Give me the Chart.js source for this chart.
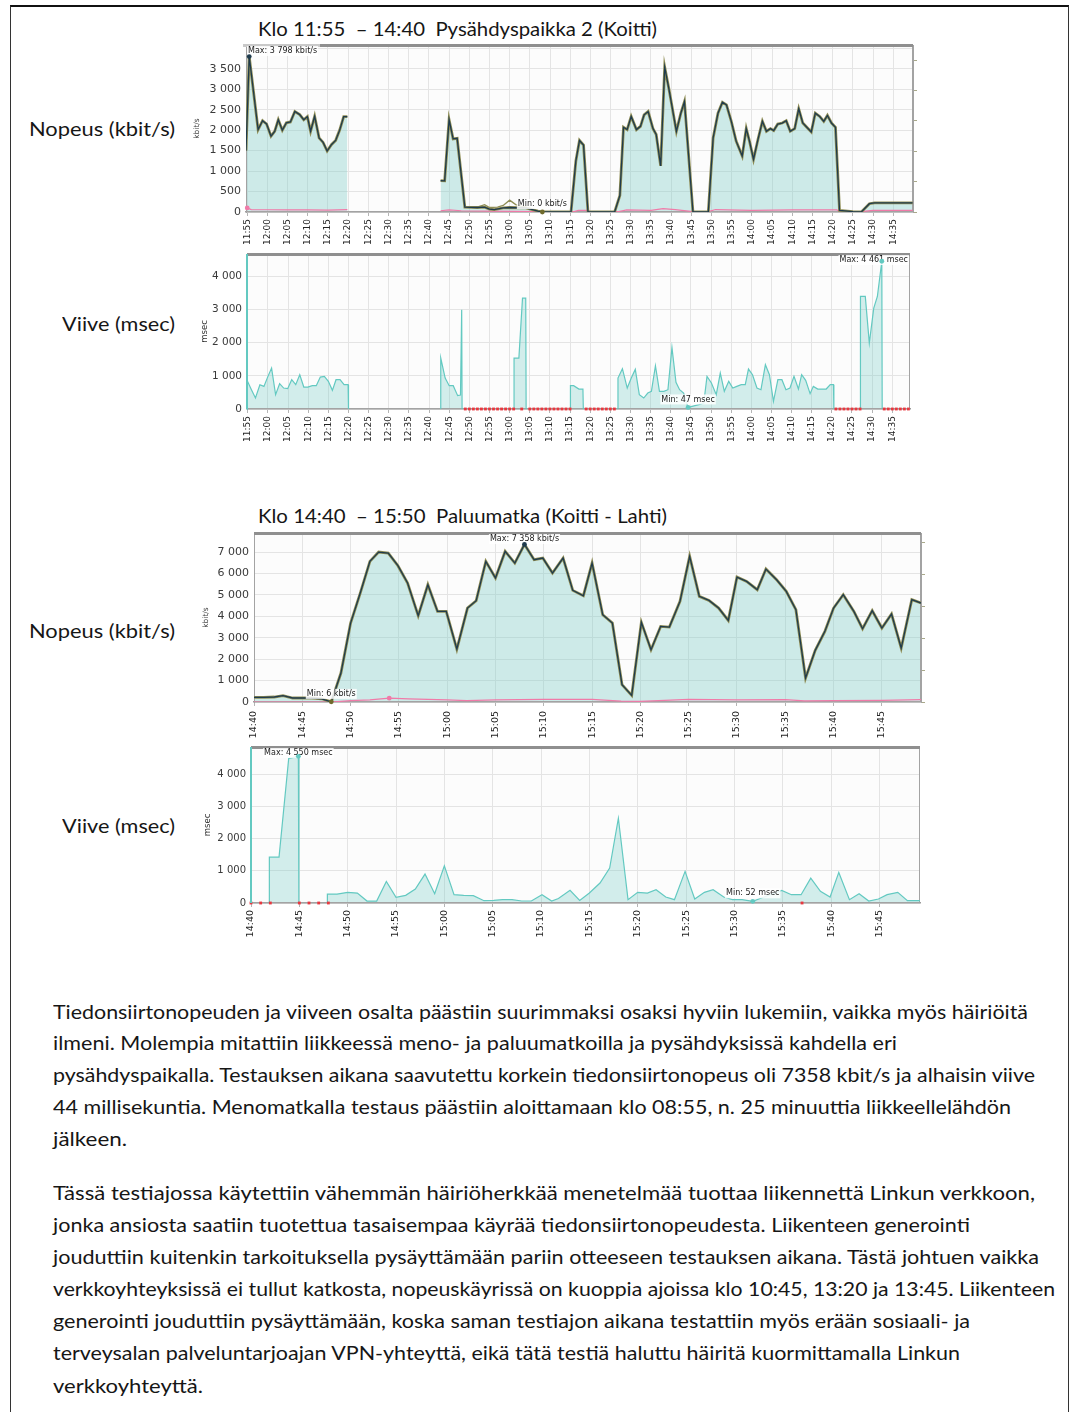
<!DOCTYPE html>
<html lang="fi">
<head>
<meta charset="utf-8">
<title>Linkku – nopeus ja viive</title>
<script src="https://cdn.jsdelivr.net/npm/chart.js@4.4.1/dist/chart.umd.min.js"></script>
<style>
  html, body { margin: 0; padding: 0; background: #fff; }
  body { position: relative; width: 1071px; height: 1412px; overflow: hidden; }
  .page { position: absolute; left: 10px; top: 5px; width: 1057px; height: 1440px;
          border-top: 2px solid #111; border-left: 1px solid #333; border-right: 1px solid #333; }
  .t { position: absolute; white-space: nowrap; color: #161616;
       font-family: Lato, "Noto Sans", sans-serif; line-height: 24px; transform-origin: 0 50%; }
  .title { font-size: 19px; }
  .side { font-size: 19.5px; }
  .para { font-size: 18.6px; left: 53px; line-height: 28px; }
  canvas { position: absolute; }
</style>
</head>
<body>
<div class="page"></div>

<div class="t title" style="left:258px;top:17px" data-w="399">Klo 11:55 &nbsp;– 14:40 &nbsp;Pysähdyspaikka 2 (Koitti)</div>
<div class="t side" style="left:29px;top:117px" data-w="146">Nopeus (kbit/s)</div>
<div class="t side" style="left:62px;top:312px" data-w="113">Viive (msec)</div>

<div class="t title" style="left:258px;top:504px" data-w="409">Klo 14:40 &nbsp;– 15:50 &nbsp;Paluumatka (Koitti - Lahti)</div>
<div class="t side" style="left:29px;top:619px" data-w="146">Nopeus (kbit/s)</div>
<div class="t side" style="left:62px;top:814px" data-w="113">Viive (msec)</div>

<canvas id="speed1"></canvas>
<canvas id="delay1"></canvas>
<canvas id="speed2"></canvas>
<canvas id="delay2"></canvas>

<div class="t para" style="top:998px" data-w="975">Tiedonsiirtonopeuden ja viiveen osalta päästiin suurimmaksi osaksi hyviin lukemiin, vaikka myös häiriöitä</div>
<div class="t para" style="top:1029px" data-w="844">ilmeni. Molempia mitattiin liikkeessä meno- ja paluumatkoilla ja pysähdyksissä kahdella eri</div>
<div class="t para" style="top:1061px" data-w="982">pysähdyspaikalla. Testauksen aikana saavutettu korkein tiedonsiirtonopeus oli 7358 kbit/s ja alhaisin viive</div>
<div class="t para" style="top:1093px" data-w="958">44 millisekuntia. Menomatkalla testaus päästiin aloittamaan klo 08:55, n. 25 minuuttia liikkeellelähdön</div>
<div class="t para" style="top:1125px" data-w="74">jälkeen.</div>

<div class="t para" style="top:1179px" data-w="982">Tässä testiajossa käytettiin vähemmän häiriöherkkää menetelmää tuottaa liikennettä Linkun verkkoon,</div>
<div class="t para" style="top:1211px" data-w="917">jonka ansiosta saatiin tuotettua tasaisempaa käyrää tiedonsiirtonopeudesta. Liikenteen generointi</div>
<div class="t para" style="top:1243px" data-w="986">jouduttiin kuitenkin tarkoituksella pysäyttämään pariin otteeseen testauksen aikana. Tästä johtuen vaikka</div>
<div class="t para" style="top:1275px" data-w="1002">verkkoyhteyksissä ei tullut katkosta, nopeuskäyrissä on kuoppia ajoissa klo 10:45, 13:20 ja 13:45. Liikenteen</div>
<div class="t para" style="top:1307px" data-w="917">generointi jouduttiin pysäyttämään, koska saman testiajon aikana testattiin myös erään sosiaali- ja</div>
<div class="t para" style="top:1339px" data-w="907">terveysalan palveluntarjoajan VPN-yhteyttä, eikä tätä testiä haluttu häiritä kuormittamalla Linkun</div>
<div class="t para" style="top:1372px" data-w="150">verkkoyhteyttä.</div>

<script>
// ---- Pysähdyspaikka 2 (Koitti), 11:55–14:40; times are minutes after 11:55 ----
const stopStart = 11 * 60 + 55;

const speed1Time = [-0.3, 0.5, 2.7, 3.8, 4.8, 5.9, 6.8, 7.7, 8.7, 9.7, 10.7, 11.8, 13.0, 14.0, 14.9, 15.7, 16.7, 17.8, 18.8, 19.8,
  20.9, 21.9, 22.9, 23.9, 24.8, 30, 47.9, 48.9, 50.0, 51.0, 52.0, 53.9, 57, 58.8, 60, 61.2, 63.4, 65, 69, 72,
  73.1, 80.2, 81.4, 82.3, 83.3, 84.4, 91.0, 92.3, 93.2, 94.1, 95.1, 96.4, 97.4, 98.3, 99.3, 100.5, 101.3, 102.4, 103.4, 104.5,
  106.3, 107.4, 108.3, 110.4, 114.2, 115.4, 116.6, 117.7, 118.7, 119.9, 121.1, 122.6, 123.6, 124.4, 125.4, 126.5, 127.6, 128.6, 129.6, 130.4,
  131.4, 132.5, 133.5, 134.5, 135.6, 136.6, 137.6, 138.6, 139.7, 140.7, 141.8, 142.8, 143.7, 144.7, 145.7, 146.7, 150, 152.1, 154.1, 155.4,
  164.8];
const speed1Kbps = [1500, 3798, 2013, 2230, 2150, 1852, 1970, 2254, 2000, 2180, 2200, 2456, 2380, 2254, 2330, 1973, 2340, 1811, 1700, 1490,
  1650, 1750, 2000, 2330, 2330, null, 765, 760, 2254, 1787, 1800, 120, 110, 120, 70, 60, 100, 110, 100, 20,
  0, 0, 1248, 1748, 1634, 0, 0, 403, 2069, 2013, 2334, 2013, 2093, 2375, 2455, 2037, 1892, 1127, 3541, 2979,
  1972, 2414, 2696, 0, 0, 1810, 2414, 2680, 2616, 2214, 1731, 1369, 2037, 1731, 1289, 1771, 2214, 1972, 2037, 1989,
  2149, 2174, 2230, 1972, 2037, 2520, 2174, 2069, 1956, 2414, 2334, 2214, 2359, 2174, 2069, 40, 10, 0, 203, 225,
  225];

// total-rate trace where it separates from the download trace
const speed1TotalTime = [53.9, 57, 58.8, 60, 62, 63.4, 65, 66.5, 69, 72, 73.1];
const speed1TotalKbps = [120, 120, 180, 110, 120, 160, 290, 180, 120, 20, 0];

const upload1Time = [-0.3, 0, 1, 5, 10, 15, 20, 24.8, 30, 47.9, 50, 53, 60, 73, 81, 82, 84, 85, 92, 94,
  100, 103, 106, 110.4, 114.2, 116, 125, 135, 146, 147, 152, 155, 164.8];
const upload1Kbps = [60, 100, 60, 55, 50, 50, 45, 60, null, 30, 50, 30, 20, 10, 10, 40, 40, 10, 10, 50,
  40, 80, 60, 10, 10, 60, 40, 50, 50, 10, 10, 40, 40];

const speed1Ticks = [0, 500, 1000, 1500, 2000, 2500, 3000, 3500, 4000];

const delay1Time = [-0.2, 0.9, 1.9, 3.0, 4.0, 5.0, 5.9, 6.9, 7.9, 8.9, 9.9, 10.9, 11.9, 12.9, 13.9, 14.9, 16.0, 17.0, 18.0, 19.0,
  20.0, 21.0, 21.9, 22.9, 23.9, 24.9, 25.0, 30,
  47.9, 47.9, 49.0, 50.0, 51.0, 52.1, 52.8, 53.1, 53.2, 60,
  66.1, 66.1, 67.3, 68.2, 69.0, 69.1, 75,
  80.1, 80.1, 80.9, 82.2, 83.2, 83.3, 87,
  91.9, 91.9, 93.0, 94.2, 95.2, 96.2, 97.2, 98.3, 99.3, 100.2, 101.2, 102.2, 103.3, 104.3, 105.3, 106.3, 107.2, 108.2, 109.3, 110.3,
  112.0, 113.2, 114.0, 115.1, 116.3, 117.3, 118.3, 119.4, 120.4, 121.4, 122.5, 123.5, 124.3, 125.3, 126.4, 127.4, 128.5, 129.5, 130.5, 131.6,
  132.6, 133.6, 134.6, 135.6, 136.7, 137.5, 138.5, 139.6, 140.4, 141.5, 142.5, 143.6, 144.6, 145.4, 145.5, 149,
  152.1, 152.1, 153.3, 154.3, 155.4, 156.3, 157.4, 157.5];
const delay1Ms = [870, 583, 332, 734, 683, 985, 1236, 432, 764, 633, 613, 884, 734, 1035, 663, 663, 704, 704, 965, 985,
  834, 563, 884, 884, 734, 734, 0, null,
  0, 1538, 935, 704, 704, 402, 420, 2995, 0, null,
  0, 1538, 1538, 3347, 3347, 0, null,
  0, 703, 703, 602, 602, 0, null,
  0, 935, 1216, 633, 935, 1196, 432, 332, 483, 533, 1306, 533, 533, 583, 1860, 804, 583, 483, 47, 80,
  131, 181, 985, 784, 432, 1086, 533, 834, 633, 683, 734, 734, 1206, 1035, 633, 583, 1337, 1035, 231, 884,
  884, 583, 633, 985, 603, 1035, 864, 463, 683, 603, 603, 603, 734, 734, 0, null,
  0, 3398, 3398, 1990, 3046, 3398, 4461, 0];

// minutes with no reply (timeouts)
const delay1Lost = [54, 55, 56, 57, 58, 59, 60, 61, 62, 63, 64, 65, 66, 68, 70, 71, 72, 73, 74, 75, 76, 77, 78, 79, 80,
  84, 85, 86, 87, 88, 89, 90, 91, 146, 147, 148, 149, 150, 151, 152, 158, 159, 160, 161, 162, 163, 164];

const delay1Ticks = [0, 1000, 2000, 3000, 4000];

// ---- Paluumatka (Koitti - Lahti), 14:40–15:50; times are minutes after 14:40 ----
const tripStart = 14 * 60 + 40;

const speed2Time = [0, 1, 2.1, 3, 4, 5, 6, 7, 8, 9, 10, 11, 12, 12.9, 13.9, 14.9, 15.9, 17, 18, 19,
  19.9, 21, 22.1, 23, 24, 25, 26, 27, 28, 29, 29.9, 30.9, 32, 33, 34.1, 35, 36.1, 37.1, 38.1, 39.1,
  40.1, 41.1, 42.1, 43, 44.1, 45.1, 46.1, 47.1, 48.1, 49.1, 50, 51, 52.1, 53, 54.1, 55.1, 56.1, 57.1, 58.1, 59.1,
  60, 61, 62.1, 63, 64, 65, 66, 67, 68.1, 69.05];
const speed2Kbps = [218, 218, 233, 295, 187, 187, 187, 150, 6, 1353, 3686, 5086, 6564, 7000, 6950, 6362, 5553, 4029, 5475, 4231,
  4231, 2473, 4386, 4729, 6564, 5786, 7031, 6486, 7358, 6642, 6720, 6020, 6720, 5211, 4962, 6486, 4075, 3686, 809, 311,
  3718, 2442, 3531, 3500, 4697, 6797, 4931, 4744, 4386, 3811, 5833, 5631, 5242, 6206, 5709, 5164, 4309, 1120, 2411, 3298,
  4386, 5009, 4231, 3422, 4262, 3453, 4106, 2520, 4775, 4620];

const upload2Time = [0, 8, 10, 12, 14, 16, 20, 22, 25, 30, 35, 38, 40, 45, 50, 55, 57, 60, 65, 69.05];
const upload2Kbps = [0, 0, 60, 100, 180, 150, 100, 60, 100, 120, 120, 40, 30, 120, 100, 110, 50, 60, 80, 110];

const speed2Ticks = [0, 1000, 2000, 3000, 4000, 5000, 6000, 7000];

const delay2Time = [1.9, 1.9, 2.9, 3.9, 4.9, 4.95, 6,
  7.9, 7.9, 8.9, 10, 11, 12, 13, 14, 15, 16, 17, 18, 19, 20, 21, 22, 23, 24.1, 25.1, 26,
  27, 28, 29, 30.1, 31.1, 31.8, 33, 34, 35, 36.1, 37.1, 38, 39, 40, 41, 41.9, 42.9, 43.8, 44.9, 45.9,
  46.9, 47.8, 48.9, 49.8, 50.8, 51.9, 52.8, 53.9, 54.9, 55.9, 56.9, 57.9, 58.9, 59.9, 60.8, 61.9, 62.9, 63.9, 64.9, 65.8,
  66.9, 67.9, 69.2];
const delay2Ms = [0, 1423, 1423, 4485, 4550, 0, null,
  0, 278, 278, 330, 309, 60, 60, 670, 175, 237, 433, 897, 289, 1155, 258, 237, 227, 72, 82, 103,
  103, 62, 62, 258, 60, 140, 392, 81, 309, 619, 1083, 2629, 103, 330, 309, 412, 186, 103, 980, 124,
  330, 412, 186, 103, 103, 52, 155, 278, 392, 258, 258, 773, 361, 186, 949, 103, 289, 60, 124, 258,
  330, 72, 72];

const delay2Lost = [0, 1, 2, 5, 6, 7, 8, 57];

const delay2Ticks = [0, 1000, 2000, 3000, 4000];

// ---- helpers ----
const pts = (xs, ys) => xs.map((x, i) => ({ x, y: ys[i] }));
const lostPts = xs => xs.map(x => ({ x, y: 0 }));
const thousands = v => String(Math.round(v)).replace(/\B(?=(\d{3})+(?!\d))/g, ' ');
const clock = start => v => {
  const t = Math.round(start + v);
  return Math.floor(t / 60) + ':' + String(t % 60).padStart(2, '0');
};

const NAVY = '#1f3b4d', OLIVE = '#8f8d55', PINK = '#f07aa8', TEAL = '#63c9c1', RED = '#e8383f';
const SPEED_FILL = 'rgba(128,205,199,0.38)', DELAY_FILL = 'rgba(120,206,199,0.32)';

// plot background and thin frame, under the data
const bgPlugin = {
  id: 'plotBg',
  beforeDraw(chart) {
    const { ctx, chartArea: a } = chart;
    ctx.save();
    ctx.fillStyle = '#fcfcfc';
    ctx.fillRect(a.left, a.top, a.right - a.left, a.bottom - a.top);
    ctx.restore();
  },
  beforeDatasetsDraw(chart) {
    const { ctx, chartArea: a } = chart;
    ctx.save();
    ctx.strokeStyle = '#a3a3a3';
    ctx.lineWidth = 1;
    ctx.strokeRect(a.left + 0.5, a.top + 0.5, a.right - a.left - 1, a.bottom - a.top - 1);
    ctx.restore();
  }
};

// heavy bar along the top edge, over the data
const framePlugin = {
  id: 'plotFrame',
  afterDatasetsDraw(chart, args, opts) {
    const { ctx, chartArea: a } = chart;
    ctx.save();
    ctx.fillStyle = '#8f8f8f';
    ctx.fillRect(a.left, a.top - 1, a.right - a.left, 3);
    if (opts.lightFrom !== undefined) {
      ctx.fillStyle = '#c9c9c9';
      ctx.fillRect(a.left + opts.lightFrom, a.top - 1, opts.lightTo - opts.lightFrom, 3);
    }
    if (opts.leftColor) {
      ctx.fillStyle = opts.leftColor;
      ctx.fillRect(a.left - 1, a.top, 2, a.bottom - a.top);
    }
    ctx.restore();
  }
};

// min / max markers with their value labels
const markerPlugin = {
  id: 'extremes',
  afterDatasetsDraw(chart, args, opts) {
    const { ctx, chartArea: a, scales: { x, y } } = chart;
    (opts.items || []).forEach(m => {
      const data = chart.data.datasets[m.dataset].data
        .filter(p => p.y !== null && (!m.positiveOnly || p.y > 0));
      let best = data[0];
      data.forEach(p => { if (m.kind === 'max' ? p.y > best.y : p.y < best.y) best = p; });
      const px = x.getPixelForValue(best.x), py = y.getPixelForValue(best.y);
      ctx.save();
      if (m.label) {
        const text = m.label(best.y);
        ctx.font = '8px "DejaVu Sans"';
        const w = ctx.measureText(text).width;
        const tx = Math.min(Math.max(px - w / 2, a.left + 2), a.right - w - 2);
        const ty = Math.min(Math.max(py - 8, a.top + 6), a.bottom - 6);
        ctx.fillStyle = 'rgba(255,255,255,0.85)';
        ctx.fillRect(tx - 1, ty - 5, w + 2, 10);
        ctx.fillStyle = '#1a1a1a';
        ctx.textBaseline = 'middle';
        ctx.fillText(text, tx, ty);
      }
      ctx.fillStyle = m.color;
      ctx.beginPath();
      ctx.arc(px, py, 2.4, 0, Math.PI * 2);
      ctx.fill();
      ctx.restore();
    });
  }
};

// Builds one panel: plot = pixel box of the plotting area on the page
function panel(id, plot, o) {
  const canvas = document.getElementById(id);
  const padTop = 16, xH = 46;
  const rightW = o.rightTicks ? 6 : 2;
  const w = Math.round(plot.r - plot.l + o.yW + rightW);
  const h = Math.round(padTop + plot.b - plot.t + xH);
  canvas.width = w; canvas.height = h;
  canvas.style.left = (plot.l - o.yW) + 'px';
  canvas.style.top = (plot.t - padTop) + 'px';

  const scales = {
    x: {
      type: 'linear', min: o.xMin, max: o.xMax,
      afterFit: s => { s.height = xH; },
      grid: { color: '#e4e4e4', lineWidth: 1, tickLength: 4, tickColor: '#b5b5b5' },
      border: { display: true, color: '#9c9c9c', width: 1.5 },
      ticks: {
        stepSize: 5, includeBounds: false, autoSkip: false, minRotation: 90, maxRotation: 90,
        padding: o.xPad, color: '#242424', font: { size: o.xFont, family: '"DejaVu Sans"' },
        callback: clock(o.start)
      }
    },
    y: {
      min: 0, max: o.yMax,
      afterFit: s => { s.width = o.yW; },
      afterBuildTicks: s => { s.ticks = o.yTicks.map(v => ({ value: v })); },
      grid: { color: '#e4e4e4', lineWidth: 1, drawTicks: false },
      border: { display: true, color: o.leftColor || '#a3a3a3', width: 1 },
      title: { display: true, text: o.yTitle, padding: 0, color: '#333',
               font: { size: o.titleFont, family: '"DejaVu Sans"' } },
      ticks: {
        padding: 5, color: '#3a3a3a',
        font: { size: o.yFont, family: '"DejaVu Sans"' },
        callback: v => (v > o.yLabelMax ? '' : thousands(v))
      }
    }
  };
  if (o.rightTicks) {
    scales.y2 = {
      position: 'right', min: 0, max: o.rightTicks,
      afterFit: s => { s.width = rightW; },
      afterBuildTicks: s => { s.ticks = [0, 1, 2, 3, 4, 5].map(v => ({ value: v })); },
      grid: { drawOnChartArea: false, tickLength: 4, tickColor: '#a9a98a' },
      border: { display: true, color: '#a3a3a3' },
      ticks: { display: false }
    };
  }

  return new Chart(canvas, {
    type: 'line',
    data: { datasets: o.datasets },
    options: {
      responsive: false, animation: false, devicePixelRatio: 1,
      layout: { padding: { top: padTop, left: 0, right: o.rightTicks ? 0 : rightW, bottom: 0 } },
      elements: { point: { radius: 0 }, line: { tension: 0 } },
      spanGaps: false,
      scales,
      plugins: {
        legend: { display: false }, tooltip: { enabled: false },
        filler: { drawTime: 'beforeDatasetsDraw' },
        plotFrame: o.frame || {},
        extremes: { items: o.markers }
      }
    },
    plugins: [bgPlugin, framePlugin, markerPlugin]
  });
}

const kbitLabel = kind => v => (kind === 'max' ? 'Max: ' : 'Min: ') + thousands(v) + ' kbit/s';
const msecLabel = kind => v => (kind === 'max' ? 'Max: ' : 'Min: ') + thousands(v) + ' msec';
const lostStyle = { showLine: false, pointStyle: 'rect', pointRadius: 2, pointBackgroundColor: RED,
                    pointBorderColor: RED, pointBorderWidth: 0, clip: false };

// speed, stop
panel('speed1', { l: 246, t: 45, r: 913, b: 212 }, {
  yW: 53, xMin: -0.3, xMax: 164.9, start: stopStart, yMax: 4080, yTicks: speed1Ticks, yLabelMax: 3500,
  yTitle: 'kbit/s', titleFont: 7.5, yFont: 11, xFont: 9, xPad: 3, rightTicks: 5.5,
  frame: { lightFrom: -3, lightTo: 74 },
  datasets: [
    { data: pts(speed1Time, speed1Kbps), borderColor: NAVY, borderWidth: 1.3, fill: 'origin', backgroundColor: SPEED_FILL },
    { data: pts(speed1Time, speed1Kbps), borderColor: OLIVE, borderWidth: 2.8, fill: false },
    { data: pts(speed1TotalTime, speed1TotalKbps), borderColor: OLIVE, borderWidth: 1.3, fill: false },
    { data: pts(upload1Time, upload1Kbps), borderColor: PINK, borderWidth: 1.2, fill: false }
  ],
  markers: [
    { dataset: 0, kind: 'max', color: NAVY, label: kbitLabel('max') },
    { dataset: 0, kind: 'min', color: '#6f6a2c', label: kbitLabel('min') },
    { dataset: 3, kind: 'max', color: PINK }
  ]
});

// delay, stop
panel('delay1', { l: 247, t: 254, r: 912, b: 409 }, {
  yW: 47, xMin: -0.2, xMax: 164.4, start: stopStart, yMax: 4680, yTicks: delay1Ticks, yLabelMax: 4000,
  yTitle: 'msec', titleFont: 8.5, yFont: 10.5, xFont: 9, xPad: 3, leftColor: TEAL,
  frame: { leftColor: TEAL },
  datasets: [
    Object.assign({ data: lostPts(delay1Lost) }, lostStyle),
    { data: pts(delay1Time, delay1Ms), borderColor: TEAL, borderWidth: 1.2, fill: 'origin', backgroundColor: DELAY_FILL }
  ],
  markers: [
    { dataset: 1, kind: 'max', color: TEAL, label: msecLabel('max') },
    { dataset: 1, kind: 'min', positiveOnly: true, color: TEAL, label: msecLabel('min') }
  ]
});

// speed, return trip
panel('speed2', { l: 254, t: 533, r: 921, b: 702 }, {
  yW: 52, xMin: 0, xMax: 69.05, start: tripStart, yMax: 7890, yTicks: speed2Ticks, yLabelMax: 7000,
  yTitle: 'kbit/s', titleFont: 7.5, yFont: 11, xFont: 9.5, xPad: 5, rightTicks: 5.31,
  frame: {},
  datasets: [
    { data: pts(speed2Time, speed2Kbps), borderColor: NAVY, borderWidth: 1.3, fill: 'origin', backgroundColor: SPEED_FILL },
    { data: pts(speed2Time, speed2Kbps), borderColor: OLIVE, borderWidth: 2.8, fill: false },
    { data: pts(upload2Time, upload2Kbps), borderColor: PINK, borderWidth: 1.2, fill: false }
  ],
  markers: [
    { dataset: 0, kind: 'max', color: NAVY, label: kbitLabel('max') },
    { dataset: 0, kind: 'min', color: '#6f6a2c', label: kbitLabel('min') },
    { dataset: 2, kind: 'max', color: PINK }
  ]
});

// delay, return trip
panel('delay2', { l: 251, t: 747, r: 922, b: 903 }, {
  yW: 48, xMin: 0, xMax: 69.2, start: tripStart, yMax: 4840, yTicks: delay2Ticks, yLabelMax: 4000,
  yTitle: 'msec', titleFont: 8.5, yFont: 10, xFont: 9.5, xPad: 3, leftColor: TEAL,
  frame: { leftColor: TEAL },
  datasets: [
    Object.assign({ data: lostPts(delay2Lost) }, lostStyle),
    { data: pts(delay2Time, delay2Ms), borderColor: TEAL, borderWidth: 1.2, fill: 'origin', backgroundColor: DELAY_FILL }
  ],
  markers: [
    { dataset: 1, kind: 'max', color: TEAL, label: msecLabel('max') },
    { dataset: 1, kind: 'min', positiveOnly: true, color: TEAL, label: msecLabel('min') }
  ]
});

// stretch each text line to its set width
document.querySelectorAll('.t[data-w]').forEach(el => {
  const target = +el.dataset.w;
  const actual = el.getBoundingClientRect().width;
  if (actual > 0) el.style.transform = 'scaleX(' + (target / actual).toFixed(4) + ')';
});
</script>
</body>
</html>
